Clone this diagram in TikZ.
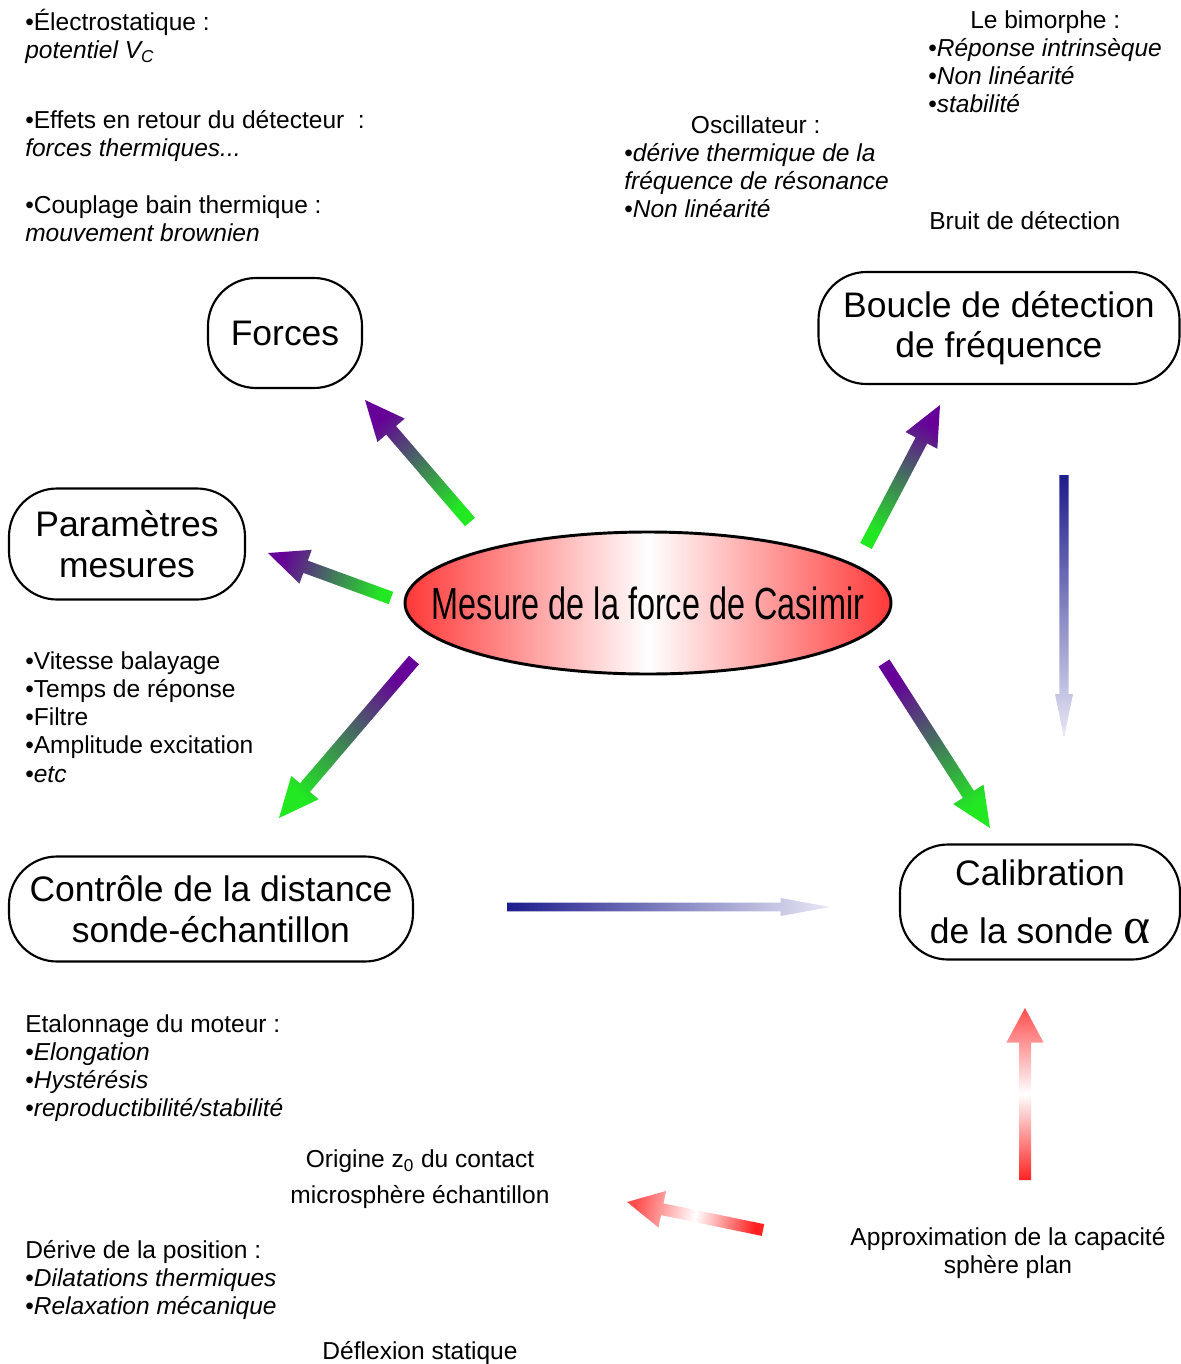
\documentclass[tikz,border=0pt]{standalone}
\usepackage{fontspec}
\setmainfont{Liberation Sans}
\newfontfamily\grec{Liberation Serif}
\usepackage{graphicx}
\usetikzlibrary{positioning,calc,shapes.geometric}
\definecolor{cvert}{HTML}{22E822}
\definecolor{cviolet}{HTML}{660099}
\definecolor{cbleu}{HTML}{1C1C8C}
\definecolor{cbleuclair}{HTML}{E8E8F6}
\definecolor{crouge}{HTML}{FF2222}
\newcommand\corps{\fontsize{18.4}{21.2}\selectfont}
\newcommand\grand{\fontsize{26.6}{30.4}\selectfont}
\newcommand\titre{\fontsize{33.75}{40}\selectfont}
\tikzset{
  texte/.style={anchor=north west, inner sep=0pt, align=left, font=\corps, execute at begin node=\strut},
  boite/.style={draw, line width=1.6pt, rounded corners=36pt, align=center, font=\grand, inner sep=0pt},
  mesure/.style={ellipse, draw, line width=2.2pt, left color=crouge!90, right color=crouge!90, middle color=white, minimum width=364.5pt, minimum height=106.5pt, inner sep=0pt, font=\titre},
  fleche verte/.style={bottom color=cvert, top color=cviolet},
  fleche basse/.style={bottom color=cviolet, top color=cvert},
  fleche bleue/.style={bottom color=cbleu, top color=cbleuclair},
  fleche rouge/.style={bottom color=crouge, top color=crouge!80, middle color=white},
}
% grosse fleche degradee : style, depart, arrivee, demi-largeur, demi-pointe, longueur pointe
\newcommand\fleche[6]{%
  \pgfmathanglebetweenpoints{\pgfpointanchor{#2}{center}}{\pgfpointanchor{#3}{center}}%
  \pgfmathsetmacro\anglefl{\pgfmathresult-90}%
  \coordinate (col) at ($(#3)!#6!(#2)$);
  \path[#1, shading angle=\anglefl]
    ($(#2)!#4!90:(#3)$) -- ($(col)!#4!90:(#3)$) -- ($(col)!#5!90:(#3)$) -- (#3)
    -- ($(col)!#5!-90:(#3)$) -- ($(col)!#4!-90:(#3)$) -- ($(#2)!#4!-90:(#3)$) -- cycle;
}

\begin{document}
\begin{tikzpicture}[x=0.75pt, y=-0.75pt]
  \useasboundingbox (0,0) rectangle (1181,1364);

  \node[mesure] (casimir) at (648,603) {\makebox[0pt]{\scalebox{0.72}[1]{Mesure de la force de Casimir}}};
  \node[boite, minimum width=115.5pt, minimum height=82.5pt] (forces) at (285,333) {Forces};
  \node[boite, minimum width=270.75pt, minimum height=84pt] (boucle) at (999,328) {Boucle de détection\\de fréquence};
  \node[boite, minimum width=177pt, minimum height=83.25pt] (params) at (127,544) {Paramètres\\mesures};
  \node[boite, minimum width=303pt, minimum height=78.75pt] (controle) at (211,909) {Contrôle de la distance\\sonde-échantillon};
  \node[boite, minimum width=210pt, minimum height=86.25pt] (calib) at (1040,902) {Calibration\\[13pt]de la sonde \scalebox{1.45}{\grec α}};

  \node[texte] (electro) at (25,9) {•Électrostatique :\\\textit{potentiel V\textsubscript{C}}};
  \node[texte] (retour) at (25,110) {•Effets en retour du détecteur\ \ :\\\textit{forces thermiques...}};
  \node[texte] (bain) at (25,195) {•Couplage bain thermique :\\\textit{mouvement brownien}};
  \node[texte] (bimorphe) at (928,10) {\hspace*{31.5pt}Le bimorphe :\\•\textit{Réponse intrinsèque}\\•\textit{Non linéarité}\\•\textit{stabilité}};
  \node[texte] (oscill) at (624,115) {\hspace*{50pt}Oscillateur :\\•\textit{dérive thermique de la}\\\textit{fréquence de résonance}\\•\textit{Non linéarité}};
  \node[texte] (bruit) at (929,209) {Bruit de détection};
  \node[texte] (vitesse) at (25,651) {•Vitesse balayage\\•Temps de réponse\\•Filtre\\•Amplitude excitation\\•\textit{etc}};
  \node[texte] (moteur) at (25,1014) {Etalonnage du moteur :\\•\textit{Elongation}\\•\textit{Hystérésis}\\•\textit{reproductibilité/stabilité}};
  \node[texte, anchor=north, align=center] (origine) at (420,1149) {Origine z\textsubscript{0} du contact\\[5.8pt]microsphère échantillon};
  \node[texte] (derive) at (25,1240) {Dérive de la position :\\•\textit{Dilatations thermiques}\\•\textit{Relaxation mécanique}};
  \node[texte, anchor=north, align=center] (deflexion) at (420,1339) {Déflexion statique};
  \node[texte, anchor=north, align=center] (approx) at (1008,1227) {Approximation de la capacité\\sphère plan};

  \coordinate (fo1) at (470,522);  \coordinate (fo2) at (365,400);
  \coordinate (pa1) at (391,598);  \coordinate (pa2) at (268,553);
  \coordinate (bo1) at (866,546);  \coordinate (bo2) at (940,405);
  \coordinate (co1) at (414,660);  \coordinate (co2) at (279,818);
  \coordinate (ca1) at (884,663);  \coordinate (ca2) at (990,828);
  \coordinate (bv1) at (1064,475); \coordinate (bv2) at (1064,738);
  \coordinate (bh1) at (507,907);  \coordinate (bh2) at (830,907);
  \coordinate (rv1) at (1025,1180); \coordinate (rv2) at (1025,1008);
  \coordinate (rd1) at (763,1230); \coordinate (rd2) at (627,1202);

  \fleche{fleche verte}{fo1}{fo2}{4.9pt}{13.5pt}{30pt}
  \fleche{fleche verte}{pa1}{pa2}{4.9pt}{13.5pt}{30pt}
  \fleche{fleche verte}{bo1}{bo2}{4.9pt}{13.5pt}{30pt}
  \fleche{fleche basse}{co1}{co2}{4.9pt}{13.5pt}{30pt}
  \fleche{fleche basse}{ca1}{ca2}{4.9pt}{13.5pt}{30pt}
  \fleche{fleche bleue}{bv1}{bv2}{3.4pt}{6.75pt}{33pt}
  \fleche{fleche bleue}{bh1}{bh2}{3.2pt}{6.75pt}{37pt}
  \fleche{fleche rouge}{rv1}{rv2}{4.5pt}{14pt}{26pt}
  \fleche{fleche rouge}{rd1}{rd2}{4.5pt}{14pt}{27pt}
\end{tikzpicture}
\end{document}
